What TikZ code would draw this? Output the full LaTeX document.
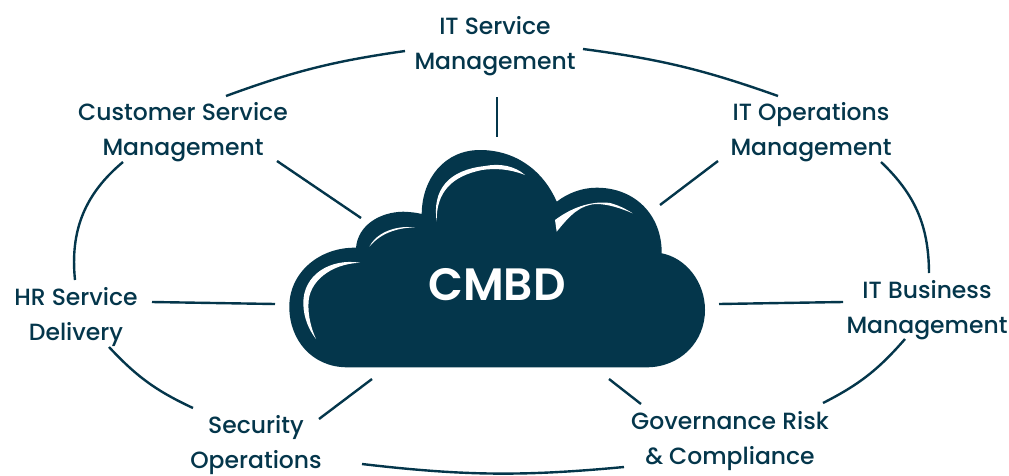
\documentclass[tikz,border=0pt]{standalone}
\usepackage{fontspec}
\setmainfont{Poppins}[UprightFont=* Medium]
\newfontfamily\boldfont{Poppins SemiBold}
\definecolor{cloudblue}{HTML}{04364B}
\tikzset{
  area/.style={inner sep=0pt, align=center, text=cloudblue, font=\fontsize{17.6}{26.2}\selectfont},
  spoke/.style={cloudblue, line width=1.8pt},
  ring/.style={cloudblue, line width=1.8pt},
  shine/.style={fill=white, draw=none}
}
\begin{document}
\begin{tikzpicture}[x=0.75pt,y=-0.75pt]
\useasboundingbox (0,0) rectangle (1009,475);
% cloud
\fill[cloudblue] (346.7,367.3) .. controls (312,367) and (289.3,340) .. (289.3,306.7)
  .. controls (289.3,272) and (320,247) .. (356,247.7)
  .. controls (358,225) and (380,212) .. (403.3,211.7)
  .. controls (410,212) and (416,212.5) .. (421.7,214)
  .. controls (422,178) and (445,150) .. (480,150)
  .. controls (515,150) and (543,170) .. (556.7,201.7)
  .. controls (568,193) and (582,187.7) .. (596.7,187.7)
  .. controls (635,187.7) and (662,215) .. (661.7,253.3)
  .. controls (686,258) and (705,282) .. (705,310)
  .. controls (705,342) and (680,367.3) .. (646.7,367.3) -- cycle;
\fill[shine] (360,262.7) .. controls (330,258) and (303,275) .. (303.3,303.3)
  .. controls (303.5,318) and (309,330) .. (316,339)
  .. controls (311,328) and (308,316) .. (308.5,303)
  .. controls (309,282) and (330,264) .. (360,262.7) -- cycle;
\fill[shine] (369.3,246.7) .. controls (375,235) and (392,225) .. (415,227.3)
  .. controls (395,228) and (380,234) .. (369.3,246.7) -- cycle;
\fill[shine] (436.7,221.7) .. controls (432,190) and (448,170) .. (485,166)
  .. controls (500,163) and (515,166) .. (525,175)
  .. controls (510,169) and (495,168) .. (482,170)
  .. controls (452,176) and (436,192) .. (436.7,221.7) -- cycle;
\fill[shine] (555,220) .. controls (575,205) and (595,201) .. (610,203)
  .. controls (618,205) and (626,209) .. (632.7,213.3)
  .. controls (620,208) and (608,204) .. (596,204)
  .. controls (580,205) and (570,215) .. (556.7,231.7) -- cycle;
\node[text=white, font=\fontsize{34}{36}\selectfont\boldfont] (cmdb) at (497,285) {CMBD};
% areas around the cloud
\node[area] (itsm) at (495,46) {IT Service\\Management};
\node[area] (csm) at (183,132) {Customer Service\\Management};
\node[area] (itops) at (811,132) {IT Operations\\Management};
\node[area] (hr) at (76,317) {HR Service\\Delivery};
\node[area] (itbm) at (927,310) {IT Business\\Management};
\node[area] (secops) at (256,445) {Security\\Operations};
\node[area] (grc) at (730,441) {Governance Risk\\\& Compliance};
% free ends at the cloud
\coordinate (toN) at (497,137);
\coordinate (toNW) at (361,218);
\coordinate (toNE) at (660,205);
\coordinate (toE) at (719,304);
\coordinate (toW) at (275,304);
\coordinate (toSW) at (372,379);
\coordinate (toSE) at (609,379);
% spokes
\draw[spoke] ([shift={(2,51)}]itsm.center) -- (toN);
\draw[spoke] ([shift={(94,29)}]csm.center) -- (toNW);
\draw[spoke] ([shift={(-93,29)}]itops.center) -- (toNE);
\draw[spoke] ([shift={(-84,-8)}]itbm.center) -- (toE);
\draw[spoke] ([shift={(76,-15)}]hr.center) -- (toW);
\draw[spoke] ([shift={(63,-26)}]secops.center) -- (toSW);
\draw[spoke] ([shift={(-89,-37)}]grc.center) -- (toSE);
% ring
\draw[ring] ([shift={(43,-36)}]csm.center) to[bend left=6] ([shift={(-90,5)}]itsm.center);
\draw[ring] ([shift={(88,3)}]itsm.center) to[bend left=6] ([shift={(-33,-36)}]itops.center);
\draw[ring] ([shift={(70,30)}]itops.center) to[bend left=23] ([shift={(2,-37)}]itbm.center);
\draw[ring] ([shift={(-22,29)}]itbm.center) to[bend left=11] ([shift={(93,-38)}]grc.center);
\draw[ring] ([shift={(106,19)}]secops.center) to[bend right=6] ([shift={(-106,26)}]grc.center);
\draw[ring] ([shift={(33,30)}]hr.center) to[bend right=11] ([shift={(-63,-37)}]secops.center);
\draw[ring] ([shift={(-1,-37)}]hr.center) to[bend left=28] ([shift={(-60,30)}]csm.center);
\end{tikzpicture}
\end{document}
